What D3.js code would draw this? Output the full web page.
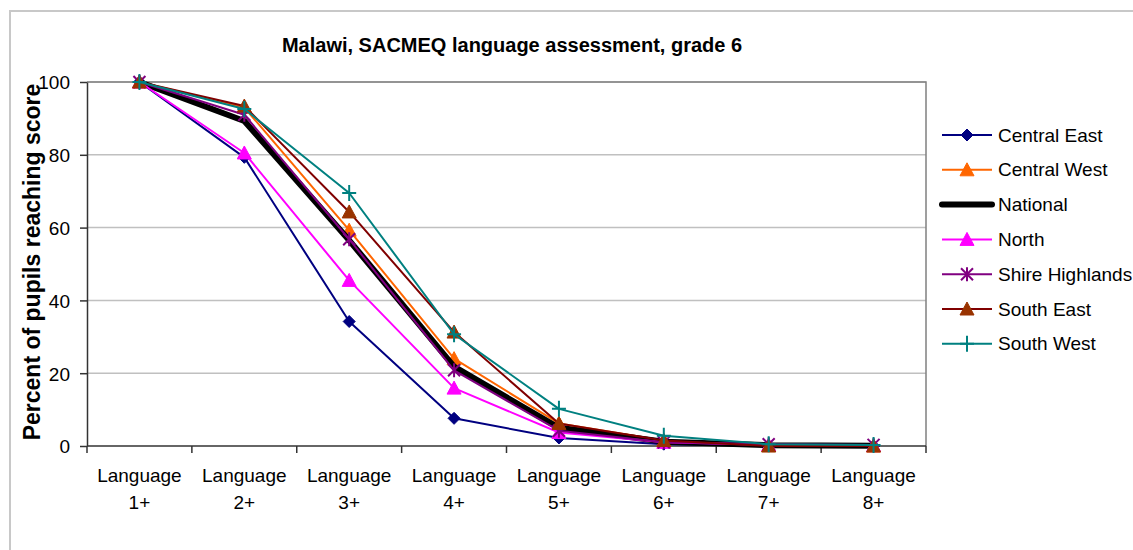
<!DOCTYPE html>
<html>
<head>
<meta charset="utf-8">
<script src="https://cdn.jsdelivr.net/npm/d3@7"></script>
<style>
  body { margin: 0; background: #fff; }
  svg { font-family: "Liberation Sans", Arial, sans-serif; }
  .grid line { stroke: #c0c0c0; stroke-width: 1.5; }
  .axis path, .axis line { stroke: #333; stroke-width: 1.5; }
  .axis text { font-size: 19px; fill: #000; }
</style>
</head>
<body>
<svg width="1133" height="550"></svg>
<script>
const categories = ["Language 1+", "Language 2+", "Language 3+", "Language 4+",
  "Language 5+", "Language 6+", "Language 7+", "Language 8+"];

const seriesNames = ["Central East", "Central West", "National", "North",
  "Shire Highlands", "South East", "South West"];

const centralEast = [100, 79.3, 34.2, 7.6, 2.2, 0.5, 0.1, 0];
const centralWest = [100, 93, 59.3, 24, 6.2, 1.5, 0.1, 0];
const national = [100, 89.3, 56.5, 21.8, 5, 1.2, 0.2, 0.1];
const north = [100, 80.5, 45.5, 15.9, 3.7, 1, 0.3, 0.1];
const shireHighlands = [100, 91, 56.8, 20.8, 4.2, 1, 0.5, 0.3];
const southEast = [100, 93.4, 64.3, 31.3, 6.2, 1.5, 0, 0];
const southWest = [100, 92.6, 69.5, 30.7, 10.2, 2.8, 0.5, 0.3];

const yTicks = [0, 20, 40, 60, 80, 100];

// style per series (drawn in this order, like excel)
const styles = [
  { values: centralEast, color: "#000080", fill: "#000080", width: 2, marker: "diamond" },
  { values: centralWest, color: "#ff6600", fill: "#ff6600", width: 2, marker: "triangle" },
  { values: national, color: "#000000", fill: "#000000", width: 6, marker: "none" },
  { values: north, color: "#ff00ff", fill: "#ff00ff", width: 2, marker: "triangle" },
  { values: shireHighlands, color: "#800080", fill: "none", width: 2, marker: "asterisk" },
  { values: southEast, color: "#800000", fill: "#993300", width: 2, marker: "triangle" },
  { values: southWest, color: "#008080", fill: "none", width: 2, marker: "plus" }
];

const svg = d3.select("svg");

// chart area border
svg.append("rect")
  .attr("x", 10)
  .attr("y", 11)
  .attr("width", 1140)
  .attr("height", 560)
  .attr("fill", "none")
  .attr("stroke", "#c8c8c8")
  .attr("stroke-width", 2);

const plotLeft = 87, plotRight = 926, plotTop = 82, plotBottom = 446;

const x = d3.scaleBand().domain(categories).range([plotLeft, plotRight]).paddingInner(0);
const y = d3.scaleLinear().domain([0, 100]).range([plotBottom, plotTop]);
const cx = (d) => x(d) + x.bandwidth() / 2;

// gridlines
svg.append("g")
  .attr("class", "grid")
  .selectAll("line")
  .data(yTicks.filter((t) => t > 0))
  .enter()
  .append("line")
  .attr("x1", plotLeft)
  .attr("x2", plotRight)
  .attr("y1", (d) => y(d))
  .attr("y2", (d) => y(d));

// plot area border (top, right)
svg.append("path")
  .attr("d", `M${plotLeft},${plotTop}H${plotRight}V${plotBottom}`)
  .attr("fill", "none")
  .attr("stroke", "#808080")
  .attr("stroke-width", 1.5);

// y axis
const yAxis = svg.append("g")
  .attr("class", "axis")
  .attr("transform", `translate(${plotLeft},0)`)
  .call(d3.axisLeft(y).tickValues(yTicks).tickSize(7).tickPadding(10).tickSizeOuter(0));
yAxis.selectAll("text").attr("dy", "0.36em");

// x axis (ticks at category boundaries)
const xAxis = svg.append("g").attr("class", "axis");
xAxis.append("line")
  .attr("x1", plotLeft).attr("x2", plotRight)
  .attr("y1", plotBottom).attr("y2", plotBottom);
xAxis.selectAll("line.tick")
  .data(categories.concat([null]))
  .enter()
  .append("line")
  .attr("class", "tick")
  .attr("x1", (d) => (d === null ? plotRight : x(d)))
  .attr("x2", (d) => (d === null ? plotRight : x(d)))
  .attr("y1", plotBottom)
  .attr("y2", plotBottom + 7);
const xLabels = xAxis.selectAll("text")
  .data(categories)
  .enter()
  .append("text")
  .attr("text-anchor", "middle")
  .attr("x", (d) => cx(d));
xLabels.append("tspan")
  .attr("x", (d) => cx(d))
  .attr("y", 482)
  .text((d) => d.split(" ")[0]);
xLabels.append("tspan")
  .attr("x", (d) => cx(d))
  .attr("y", 509)
  .text((d) => d.split(" ")[1]);

// marker shapes
const markerPath = function (type) {
  if (type === "diamond") return "M0,-6L6,0L0,6L-6,0Z";
  if (type === "triangle") return "M0,-7L7,6L-7,6Z";
  if (type === "asterisk") return "M-6,-6L6,6M-6,6L6,-6M0,-7V7";
  if (type === "plus") return "M-7,0H7M0,-8V8";
  return "";
};

const line = d3.line()
  .x((d, i) => cx(categories[i]))
  .y((d) => y(d));

const seriesGroups = svg.selectAll("g.series")
  .data(styles)
  .enter()
  .append("g")
  .attr("class", "series");

seriesGroups.append("path")
  .attr("d", (s) => line(s.values))
  .attr("fill", "none")
  .attr("stroke", (s) => s.color)
  .attr("stroke-width", (s) => s.width)
  .attr("stroke-linejoin", "round");

seriesGroups.each(function (s) {
  if (s.marker === "none") return;
  d3.select(this)
    .selectAll("path.marker")
    .data(s.values)
    .enter()
    .append("path")
    .attr("class", "marker")
    .attr("transform", (d, i) => `translate(${cx(categories[i])},${y(d)})`)
    .attr("d", markerPath(s.marker))
    .attr("fill", s.fill)
    .attr("stroke", s.fill === "#993300" ? "#993300" : s.color)
    .attr("stroke-width", s.marker === "asterisk" || s.marker === "plus" ? 2 : 1);
});

// title
svg.append("text")
  .attr("x", 512)
  .attr("y", 52)
  .attr("text-anchor", "middle")
  .attr("font-size", 20)
  .attr("font-weight", "bold")
  .text("Malawi, SACMEQ language assessment, grade 6");

// y axis title
svg.append("text")
  .attr("transform", "translate(40,262) rotate(-90)")
  .attr("text-anchor", "middle")
  .attr("font-size", 23)
  .attr("font-weight", "bold")
  .text("Percent of pupils reaching score");

// legend
const legend = svg.selectAll("g.legend")
  .data(styles)
  .enter()
  .append("g")
  .attr("class", "legend")
  .attr("transform", (d, i) => `translate(0,${135 + i * 34.8})`);
legend.append("line")
  .attr("x1", 942)
  .attr("x2", 992)
  .attr("stroke", (s) => s.color)
  .attr("stroke-width", (s) => s.width)
  .attr("stroke-linecap", (s) => (s.width > 3 ? "round" : "butt"));
legend.append("path")
  .attr("transform", "translate(967,0)")
  .attr("d", (s) => markerPath(s.marker))
  .attr("fill", (s) => s.fill)
  .attr("stroke", (s) => (s.fill === "#993300" ? "#993300" : s.color))
  .attr("stroke-width", (s) => (s.marker === "asterisk" || s.marker === "plus" ? 2 : 1));
legend.append("text")
  .attr("x", 998)
  .attr("y", 0)
  .attr("dy", "0.35em")
  .attr("font-size", 19)
  .text((s, i) => seriesNames[i]);
</script>
</body>
</html>
